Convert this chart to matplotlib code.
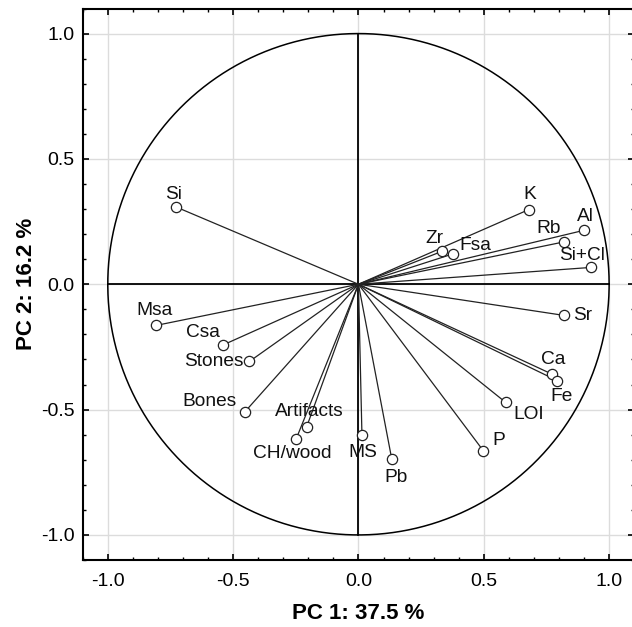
import numpy as np
import matplotlib
matplotlib.use("Agg")
import matplotlib.pyplot as plt
from matplotlib.ticker import MultipleLocator

plt.rcParams['font.family'] = ['Liberation Sans', 'DejaVu Sans']
plt.rcParams['axes.unicode_minus'] = False

# Variable names and loadings on PC1 / PC2
variables = ["Si", "K", "Al", "Rb", "Si+Cl", "Zr", "Fsa", "Msa", "Csa", "Stones",
             "Bones", "Artifacts", "CH/wood", "MS", "Pb", "P", "LOI", "Ca", "Fe", "Sr"]
pc1 = [-0.727, 0.680, 0.899, 0.820, 0.926, 0.335, 0.377, -0.806, -0.542, -0.435,
       -0.454, -0.207, -0.248, 0.014, 0.133, 0.498, 0.587, 0.773, 0.794, 0.818]
pc2 = [0.308, 0.298, 0.215, 0.169, 0.067, 0.132, 0.121, -0.164, -0.243, -0.308,
       -0.510, -0.570, -0.616, -0.603, -0.698, -0.664, -0.471, -0.359, -0.385, -0.124]

x_label = "PC 1: 37.5 %"
y_label = "PC 2: 16.2 %"
tick_values = [-1.0, -0.5, 0.0, 0.5, 1.0]

# label placement offsets (pixels) relative to each point
label_offsets = [(-3, 13), (1, 15), (2, 14), (-15, 13), (-9, 12), (-8, 13), (22, 8),
                 (-2, 15), (-20, 13), (-36, 0), (-35, 11), (3, 16), (-4, -15),
                 (1, -17), (4, -18), (15, 10), (23, -12), (1, 15), (4, -16), (19, 0)]

fig = plt.figure(figsize=(6.32, 6.27), dpi=100)
ax = fig.add_axes([82.7 / 632, 67 / 627, 551.5 / 632, 551.5 / 627])
ax.set_xlim(-1.1, 1.1)
ax.set_ylim(-1.1, 1.1)

ax.grid(True, color='#dcdcdc', linewidth=1.0, zorder=0)
ax.set_axisbelow(True)

# unit circle
theta = np.linspace(0, 2 * np.pi, 400)
ax.plot(np.cos(theta), np.sin(theta), color='black', lw=1.1, zorder=2)
# cross lines
ax.plot([-1, 1], [0, 0], color='black', lw=1.3, zorder=2)
ax.plot([0, 0], [-1, 1], color='black', lw=1.3, zorder=2)

for name, x, y, off in zip(variables, pc1, pc2, label_offsets):
    ax.plot([0, x], [0, y], color='#222222', lw=0.9, zorder=3)
    ax.plot(x, y, marker='o', ms=7.4, mfc='white', mec='#222222', mew=0.9, zorder=4)
    ax.annotate(name, (x, y), xytext=off, textcoords='offset pixels',
                ha='center', va='center', fontsize=13.8, color='#111111', zorder=5)

ax.xaxis.set_minor_locator(MultipleLocator(0.1))
ax.yaxis.set_minor_locator(MultipleLocator(0.1))
ax.set_xticks(tick_values)
ax.set_yticks(tick_values)
ax.set_xticklabels([f"{v:.1f}" for v in tick_values])
ax.set_yticklabels([f"{v:.1f}" for v in tick_values])
ax.tick_params(which='both', direction='in', top=True, right=True, color='black')
ax.tick_params(which='major', length=4.5, width=1.2, labelsize=14)
ax.tick_params(axis='x', which='major', pad=9)
ax.tick_params(axis='y', which='major', pad=6)
ax.tick_params(which='minor', length=2.5, width=1.0)
for s in ax.spines.values():
    s.set_linewidth(1.5)

ax.set_xlabel(x_label, fontsize=16, fontweight='bold', labelpad=10)
ax.set_ylabel(y_label, fontsize=16, fontweight='bold', labelpad=3)

fig.savefig("out.png", dpi=100)
